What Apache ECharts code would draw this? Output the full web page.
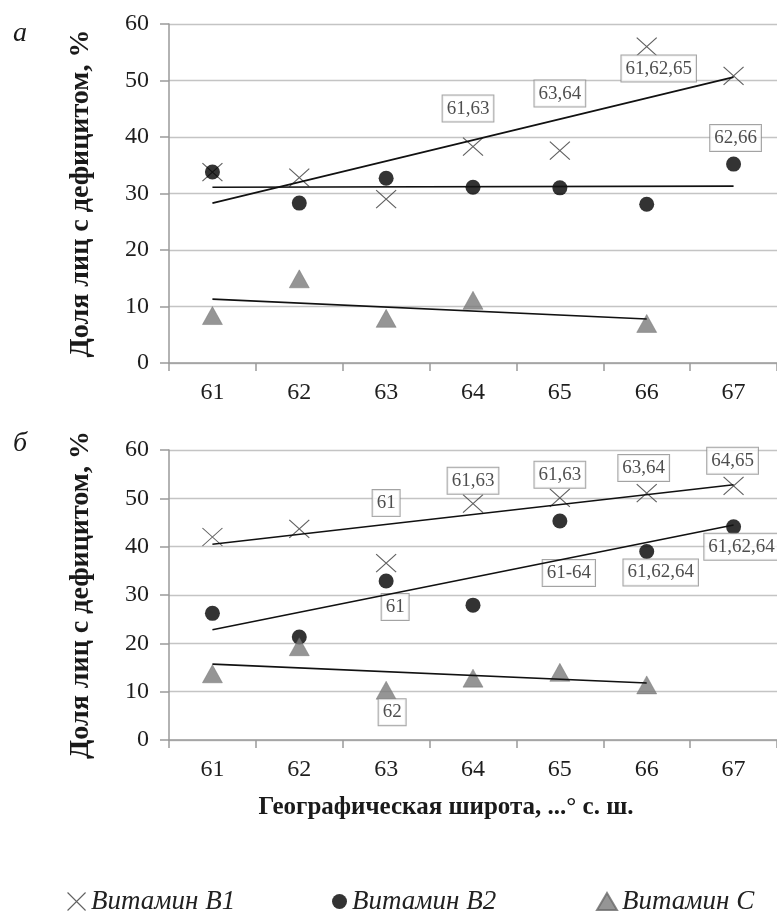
<!DOCTYPE html>
<html>
<head>
<meta charset="utf-8">
<script src="https://cdn.jsdelivr.net/npm/echarts@6/dist/echarts.min.js"></script>
<style>
html,body{margin:0;padding:0;background:#fff;}
#chart{width:777px;height:917px;}
</style>
</head>
<body>
<div id="chart"></div>
<script>
// ---------- DATA ----------
const categories = ['61', '62', '63', '64', '65', '66', '67'];
const yTicks = [0, 10, 20, 30, 40, 50, 60];
const seriesNames = ['Витамин B1', 'Витамин B2', 'Витамин C'];

// panel а
const topB1 = [33.8, 32.8, 29.0, 38.3, 37.6, 56.0, 50.8];
const topB2 = [33.8, 28.3, 32.7, 31.1, 31.0, 28.1, 35.2];
const topC  = [8.4, 14.9, 7.9, 11.1, null, 7.0, null];
const topB1Labels = ['', '', '', '61,63', '63,64', '61,62,65', ''];
const topB2Labels = ['', '', '', '', '', '', '62,66'];
const topCLabels  = ['', '', '', '', '', '', ''];
const topTrendB1 = [['61', 28.3], ['67', 50.6]];
const topTrendB2 = [['61', 31.1], ['67', 31.3]];
const topTrendC  = [['61', 11.3], ['66', 7.8]];

// panel б
const botB1 = [42.0, 43.7, 36.6, 48.9, 50.1, 51.1, 52.6];
const botB2 = [26.2, 21.3, 32.9, 27.9, 45.3, 39.0, 44.1];
const botC  = [13.7, 19.3, 10.3, 12.8, 14.0, 11.4, null];
const botB1Labels = ['', '', '61', '61,63', '61,63', '63,64', '64,65'];
const botB2Labels = ['', '', '61', '', '61-64', '61,62,64', '61,62,64'];
const botCLabels  = ['', '', '62', '', '', '', ''];
const botTrendB1 = [['61', 40.5], ['67', 52.8]];
const botTrendB2 = [['61', 22.8], ['67', 44.5]];
const botTrendC  = [['61', 15.7], ['66', 11.8]];

// ---------- STYLE / LAYOUT ----------
const SERIF = 'Liberation Serif';
const crossPath = 'path://M0 0L10 10M10 0L0 10';
const labelOffsets = {
  top: {
    B1: {3: [-5, -38], 4: [0, -57], 5: [12, 22]},
    B2: {6: [2, -26]},
    C: {}
  },
  bot: {
    B1: {2: [0, -60], 3: [0, -23], 4: [0, -23], 5: [-3, -25], 6: [-1, -25]},
    B2: {2: [9, 26], 4: [9, 52], 5: [14, 21], 6: [8, 20]},
    C: {2: [6, 22]}
  }
};

const labelBox = {
  show: true,
  position: 'inside',
  fontFamily: SERIF,
  fontSize: 19,
  color: '#222',
  backgroundColor: '#fff',
  borderColor: '#8c8c8c',
  borderWidth: 1,
  padding: [4, 4, 3, 4]
};

function buildData(values, labels, offsets) {
  return values.map((v, i) => {
    const item = {value: [categories[i], v == null ? '-' : v]};
    if (labels[i]) {
      item.label = Object.assign({}, labelBox, {
        formatter: labels[i],
        offset: offsets[i] || [0, -25]
      });
    }
    return item;
  });
}

const styles = {
  B1: {symbol: crossPath, symbolSize: [20, 18], itemStyle: {color: 'transparent', borderColor: '#3a3a3a', borderWidth: 1.1}},
  B2: {symbol: 'circle', symbolSize: 15, itemStyle: {color: '#000'}},
  C:  {symbol: 'triangle', symbolSize: [20, 18], itemStyle: {color: '#7a7a7a', borderColor: '#6a6a6a', borderWidth: 0.5}}
};

function scatter(name, key, gi, values, labels, offsets) {
  return {
    type: 'scatter', name: name, xAxisIndex: gi, yAxisIndex: gi,
    symbol: styles[key].symbol, symbolSize: styles[key].symbolSize,
    itemStyle: styles[key].itemStyle,
    label: {show: false},
    emphasis: {disabled: true},
    z: 3,
    data: buildData(values, labels, offsets)
  };
}
function trend(gi, data) {
  return {
    type: 'line', xAxisIndex: gi, yAxisIndex: gi, symbol: 'none',
    lineStyle: {color: '#111', width: 1.6}, z: 4, silent: true,
    data: data
  };
}

function xAxis(gi) {
  return {
    type: 'category', gridIndex: gi, data: categories, boundaryGap: true,
    axisLine: {show: true, lineStyle: {color: '#9a9a9a', width: 1.5}},
    axisTick: {show: true, length: 8, lineStyle: {color: '#9a9a9a', width: 1.5}},
    axisLabel: {fontFamily: SERIF, fontSize: 24, color: '#1e1e1e', margin: 18},
    splitLine: {show: false}
  };
}
function yAxis(gi) {
  return {
    type: 'value', gridIndex: gi, min: yTicks[0], max: yTicks[yTicks.length - 1], interval: 10,
    name: 'Доля лиц с дефицитом, %', nameLocation: 'middle', nameGap: 74,
    nameTextStyle: {fontFamily: SERIF, fontSize: 28, fontWeight: 'bold', color: '#1a1a1a'},
    axisLine: {show: true, lineStyle: {color: '#9a9a9a', width: 1.5}},
    axisTick: {show: true, length: 9, lineStyle: {color: '#9a9a9a', width: 1.5}},
    axisLabel: {fontFamily: SERIF, fontSize: 24, color: '#1e1e1e', margin: 20},
    splitLine: {show: true, lineStyle: {color: '#c4c4c4', width: 1.3}}
  };
}

const legendText = {fontFamily: SERIF, fontStyle: 'italic', fontSize: 27, color: '#222'};

const option = {
  backgroundColor: '#fff',
  animation: false,
  grid: [
    {left: 169, top: 24, width: 616, height: 339},
    {left: 169, top: 450, width: 616, height: 290}
  ],
  xAxis: [xAxis(0), xAxis(1)],
  yAxis: [yAxis(0), yAxis(1)],
  legend: [
    {left: 62, top: 883, itemWidth: 19, itemHeight: 18, itemGap: 0, textStyle: legendText,
     data: [{name: seriesNames[0], icon: crossPath, itemStyle: {color: 'transparent', borderColor: '#3a3a3a', borderWidth: 1.1}}]},
    {left: 327, top: 883, itemWidth: 15, itemHeight: 15, itemGap: 0, textStyle: legendText,
     data: [{name: seriesNames[1], icon: 'circle'}]},
    {left: 591, top: 883, itemWidth: 20, itemHeight: 17, itemGap: 0, textStyle: legendText,
     data: [{name: seriesNames[2], icon: 'triangle'}]}
  ],
  graphic: [
    {type: 'text', left: 13, top: 20, style: {text: 'а', font: 'italic 28px ' + SERIF, fill: '#1a1a1a'}},
    {type: 'text', left: 13, top: 430, style: {text: 'б', font: 'italic 28px ' + SERIF, fill: '#1a1a1a'}},
    {type: 'text', x: 446, y: 808, style: {text: 'Географическая широта, ...° с. ш.', font: 'bold 25px ' + SERIF, fill: '#1a1a1a', align: 'center', verticalAlign: 'middle'}}
  ],
  series: [
    scatter(seriesNames[0], 'B1', 0, topB1, topB1Labels, labelOffsets.top.B1),
    scatter(seriesNames[1], 'B2', 0, topB2, topB2Labels, labelOffsets.top.B2),
    scatter(seriesNames[2], 'C', 0, topC, topCLabels, labelOffsets.top.C),
    trend(0, topTrendB1), trend(0, topTrendB2), trend(0, topTrendC),
    scatter(seriesNames[0], 'B1', 1, botB1, botB1Labels, labelOffsets.bot.B1),
    scatter(seriesNames[1], 'B2', 1, botB2, botB2Labels, labelOffsets.bot.B2),
    scatter(seriesNames[2], 'C', 1, botC, botCLabels, labelOffsets.bot.C),
    trend(1, botTrendB1), trend(1, botTrendB2), trend(1, botTrendC)
  ]
};

const chart = echarts.init(document.getElementById('chart'), null, {renderer: 'canvas'});
chart.setOption(option);
</script>
</body>
</html>
